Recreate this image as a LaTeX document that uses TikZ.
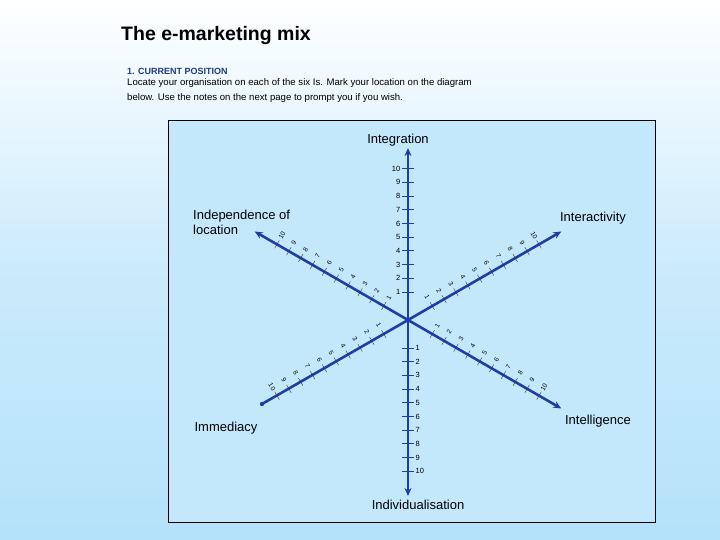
\documentclass[tikz,border=0pt]{standalone}
\usepackage{fontspec}
\setmainfont{Liberation Sans}
\usetikzlibrary{arrows.meta}
\definecolor{axisblue}{HTML}{1F3FA8}
\definecolor{bgtop}{HTML}{FFFFFF}
\definecolor{bgbot}{HTML}{B4E2FA}
\definecolor{headblue}{HTML}{1F3A80}
\begin{document}
\begin{tikzpicture}[x=1pt,y=-1pt,
  axisline/.style={draw=axisblue,line width=2.6pt,-{Stealth[length=8pt,width=7pt]}},
  tickmark/.style={draw=axisblue,line width=1pt},
  difftick/.style={draw=black!80,line width=0.4pt},
  ticklab/.style={font=\fontsize{7.5}{8}\selectfont,inner sep=0.5pt},
  dlab/.style={font=\fontsize{6.5}{7}\selectfont,inner sep=0.2pt},
  axname/.style={font=\fontsize{13}{15}\selectfont,align=left,inner sep=0}]
\useasboundingbox (0,0) rectangle (720,540);
\shade[top color=bgtop,bottom color=bgbot,middle color=bgbot!70] (0,0) rectangle (720,540);
\fill[bgbot!80] (168,120) rectangle (655,522);
\draw[line width=0.8pt] (168,120) rectangle (655,522);
\node[anchor=west,font=\bfseries\fontsize{19.5}{22}\selectfont,inner sep=0] (title) at (121,36) {The e-marketing mix};
\node[anchor=west,font=\bfseries\fontsize{9}{10}\selectfont,text=headblue,inner sep=0] (head) at (127,71) {1. CURRENT POSITION};
\node[anchor=north west,font=\fontsize{9.6}{14.5}\selectfont,align=left,inner sep=0] (intro) at (127,78.5) {Locate your organisation on each of the six Is. Mark your location on the diagram\\below. Use the notes on the next page to prompt you if you wish.};
\coordinate (c) at (408,320);
\coordinate (eN) at (408,148);
\coordinate (eS) at (408,496);
\coordinate (eNE) at (561.3,231.5);
\coordinate (eNW) at (254.7,231.5);
\coordinate (eSW) at (262,404);
\coordinate (eSE) at (561.3,408.5);
\draw[axisline] (c) -- (eN);
\draw[axisline] (c) -- (eS);
\draw[axisline] (c) -- (eNE);
\draw[axisline] (c) -- (eNW);
\draw[axisline] (c) -- (eSE);
\draw[draw=axisblue,line width=2.6pt] (c) -- (eSW);
\fill[axisblue] (eSW) circle (2.2pt);
\fill[axisblue] (c) circle (2.8pt);
\foreach \k in {1,...,10}{
  \pgfmathsetmacro{\d}{14.3+13.7*\k}
  \draw[tickmark] (402,320-\d) -- (414,320-\d);
  \node[ticklab,anchor=east] at (401,320-\d) {\k};
  \draw[tickmark] (402,320+\d) -- (414,320+\d);
  \node[ticklab,anchor=west] at (415,320+\d) {\k};
  \foreach \ux/\uy/\nx/\ny/\rot in {0.866/-0.5/-0.5/-0.866/-60, -0.866/-0.5/0.5/-0.866/60, -0.866/0.5/-0.5/-0.866/-60, 0.866/0.5/0.5/-0.866/60}{
    \pgfmathsetmacro{\px}{408+\d*\ux}
    \pgfmathsetmacro{\py}{320+\d*\uy}
    \draw[difftick] (\px+4.5*\nx,\py+4.5*\ny) -- (\px-4.5*\nx,\py-4.5*\ny);
    \node[dlab,rotate=\rot] at (\px+10*\nx,\py+10*\ny) {\k};
  }
}
\node[axname] (lN) at (398,140) {Integration};
\node[axname,anchor=north west] (lNW) at (193,210) {Independence of\\location};
\node[axname] (lNE) at (593,218) {Interactivity};
\node[axname] (lSW) at (226,428) {Immediacy};
\node[axname] (lSE) at (598,421) {Intelligence};
\node[axname] (lS) at (418,505) {Individualisation};
\end{tikzpicture}
\end{document}
